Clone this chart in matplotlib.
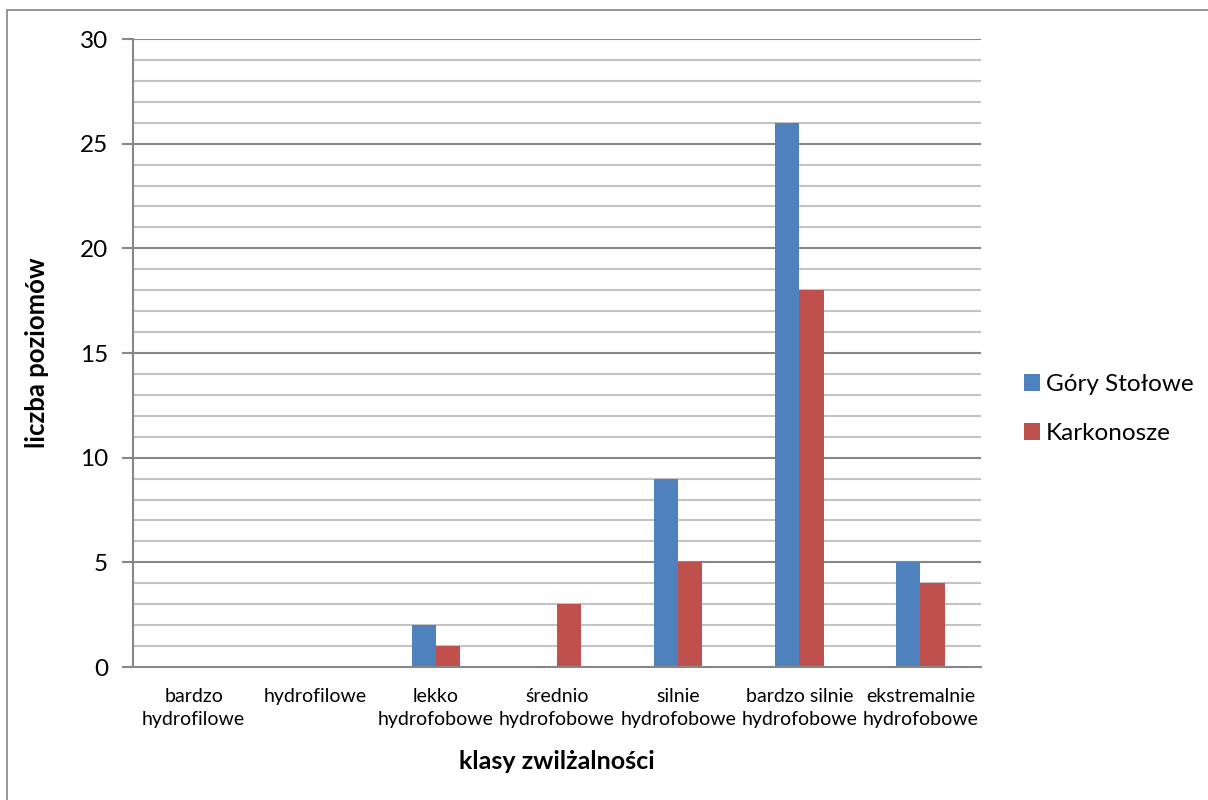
import matplotlib
matplotlib.use("Agg")
import matplotlib.pyplot as plt
import numpy as np
from matplotlib.patches import Rectangle

plt.rcParams['font.family'] = ['Lato', 'DejaVu Sans']

categories = ["bardzo\nhydrofilowe", "hydrofilowe", "lekko\nhydrofobowe",
              "średnio\nhydrofobowe", "silnie\nhydrofobowe",
              "bardzo silnie\nhydrofobowe", "ekstremalnie\nhydrofobowe"]
gory_stolowe = [0, 0, 2, 0, 9, 26, 5]
karkonosze = [0, 0, 1, 3, 5, 18, 4]
series_names = ["Góry Stołowe", "Karkonosze"]
colors = ["#4F81BD", "#C0504D"]

W, H = 1208, 800
fig = plt.figure(figsize=(W / 100, H / 100), dpi=100)
fig.patch.set_facecolor("white")

# chart border
fig.patches.append(Rectangle((7.5 / W, -0.05), 1.2, (H - 10) / H + 0.05,
                             transform=fig.transFigure, fill=False,
                             edgecolor="#8c8c8c", linewidth=1.3))

ax = fig.add_axes([133 / W, (H - 667) / H, (981 - 133) / W, (667 - 39) / H])
x = np.arange(len(categories))
bw = 0.2
ax.bar(x - bw / 2, gory_stolowe, bw, color=colors[0], label=series_names[0], zorder=3)
ax.bar(x + bw / 2, karkonosze, bw, color=colors[1], label=series_names[1], zorder=3)

ax.set_xlim(-0.5, len(categories) - 0.5)
ax.set_ylim(0, 30)

# gridlines: light every unit, darker at multiples of 5
for v in range(1, 31):
    if v % 5 == 0:
        ax.axhline(v, color="#878787", linewidth=1.5, zorder=1)
    else:
        ax.axhline(v, color="#c3c3c3", linewidth=1.5, zorder=1)

for s in ["top", "right"]:
    ax.spines[s].set_visible(False)
ax.spines["left"].set_color("#878787")
ax.spines["left"].set_linewidth(1.5)
ax.spines["bottom"].set_color("#878787")
ax.spines["bottom"].set_linewidth(1.5)
ax.spines["bottom"].set_zorder(4)

ax.set_yticks(range(0, 31, 5))
ax.tick_params(axis="y", length=8, width=1.5, color="#878787", labelsize=17.5, pad=10)
ax.set_xticks(x)
ax.set_xticklabels(categories, fontsize=14, linespacing=1.42)
ax.tick_params(axis="x", length=0, pad=15)

ax.set_ylabel("liczba poziomów", fontsize=18.5, fontweight="bold", labelpad=22)
ax.set_xlabel("klasy zwilżalności", fontsize=18, fontweight="bold", labelpad=16)

leg = fig.legend(loc="center left", bbox_to_anchor=(1002 / W, 1 - 409 / H),
                 frameon=False, fontsize=17.5, handlelength=0.65, handleheight=0.65,
                 handletextpad=0.25, labelspacing=1.15)

fig.savefig("out.png", dpi=100, facecolor="white")
